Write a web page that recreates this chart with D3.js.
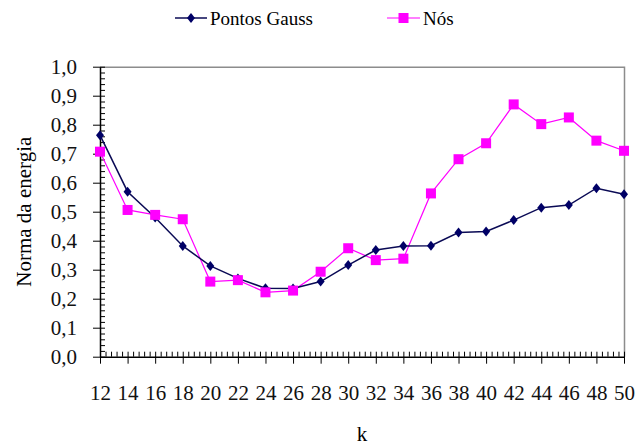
<!DOCTYPE html>
<html>
<head>
<meta charset="utf-8">
<script src="https://cdn.jsdelivr.net/npm/d3@7"></script>
<style>
  body { margin: 0; background: #fff; }
</style>
</head>
<body>
<div id="chart"></div>
<script>
const kValues = [12,14,16,18,20,22,24,26,28,30,32,34,36,38,40,42,44,46,48,50]
const pontosGauss = [0.764,0.569,0.48,0.382,0.313,0.27,0.236,0.235,0.259,0.316,0.368,0.382,0.383,0.428,0.432,0.471,0.514,0.523,0.581,0.560]
const nos = [0.707,0.506,0.489,0.474,0.259,0.264,0.222,0.228,0.293,0.374,0.333,0.338,0.563,0.681,0.736,0.870,0.802,0.825,0.745,0.710]
const yTicks = [0,0.1,0.2,0.3,0.4,0.5,0.6,0.7,0.8,0.9,1.0]
const seriesNames = ["Pontos Gauss", "Nós"]

const serif = "'Liberation Serif', 'DejaVu Serif', serif"

const margin = {top:66.7, right:15, bottom:90.3, left:100},
  width = 639 - margin.left - margin.right,
  height = 447 - margin.top - margin.bottom;

const x = d3.scaleLinear().domain([12, 50]).range([0, width])
const y = d3.scaleLinear().domain([0, 1]).range([height, 0])

const svg = d3.select("#chart")
  .append("svg")
    .attr("width", 639)
    .attr("height", 447)
    .attr("font-family", serif)
  .append("g")
    .attr("transform", "translate(" + margin.left + "," + margin.top + ")");

// frame top/right (gray)
svg.append("path")
  .attr("d", "M0,0.5H" + (width + 0.5) + "V" + height)
  .attr("fill", "none")
  .attr("stroke", "#8c8c8c")
  .attr("stroke-width", 1.5)

// minor ticks
const xMinor = d3.range(12, 50.01, 0.4).filter(v => Math.abs(v/2 - Math.round(v/2)) > 0.01)
const yMinor = d3.range(0, 1.001, 0.02).filter(v => Math.abs(v*10 - Math.round(v*10)) > 0.01)

svg.append("g")
  .attr("transform", "translate(0," + height + ")")
  .call(d3.axisBottom(x).tickValues(xMinor).tickSize(-5).tickFormat(""))
  .call(g => g.select(".domain").remove())

svg.append("g")
  .call(d3.axisLeft(y).tickValues(yMinor).tickSize(-5).tickFormat(""))
  .call(g => g.select(".domain").remove())

// x axis
const xAxis = svg.append("g")
  .attr("transform", "translate(0," + height + ")")
  .call(d3.axisBottom(x).tickValues(kValues).tickSize(7).tickSizeOuter(0).tickPadding(21))
  .attr("font-family", serif)
xAxis.selectAll(".tick line").attr("y1", -5)
xAxis.selectAll("text").attr("font-size", "21px").attr("fill", "#111")
xAxis.select(".domain").attr("stroke-width", 1.5)

// y axis
const yAxis = svg.append("g")
  .call(d3.axisLeft(y).tickValues(yTicks).tickSize(7).tickSizeOuter(0).tickPadding(16)
    .tickFormat(v => d3.format(".1f")(v).replace(".", ",")))
  .attr("font-family", serif)
yAxis.selectAll(".tick line").attr("x1", 5)
yAxis.selectAll("text").attr("font-size", "21px").attr("fill", "#111")
yAxis.select(".domain").attr("stroke-width", 1.5)

// axis titles
svg.append("text")
  .attr("x", width / 2)
  .attr("y", 374)
  .attr("text-anchor", "middle")
  .attr("font-size", "21px")
  .text("k")

svg.append("text")
  .attr("transform", "translate(-69," + (height / 2) + ") rotate(-90)")
  .attr("text-anchor", "middle")
  .attr("font-size", "21px")
  .text("Norma da energia")

const line = d3.line()
  .x((d, i) => x(kValues[i]))
  .y(d => y(d))

// Nós
svg.append("path")
  .datum(nos)
  .attr("fill", "none")
  .attr("stroke", "#ff00ff")
  .attr("stroke-width", 1.2)
  .attr("d", line)

// Pontos Gauss
svg.append("path")
  .datum(pontosGauss)
  .attr("fill", "none")
  .attr("stroke", "#0a0a55")
  .attr("stroke-width", 1.5)
  .attr("d", line)

svg.selectAll(".gauss")
  .data(pontosGauss)
  .enter()
  .append("path")
    .attr("class", "gauss")
    .attr("transform", (d, i) => "translate(" + x(kValues[i]) + "," + y(d) + ")")
    .attr("d", "M0,-5L4,0L0,5L-4,0Z")
    .attr("fill", "#000066")

svg.selectAll(".nos")
  .data(nos)
  .enter()
  .append("rect")
    .attr("class", "nos")
    .attr("x", (d, i) => x(kValues[i]) - 5)
    .attr("y", d => y(d) - 5)
    .attr("width", 10)
    .attr("height", 10)
    .attr("fill", "#ff00ff")

// legend
const legend = d3.select("svg").append("g")
const lg1 = legend.append("g").attr("transform", "translate(175,18)")
lg1.append("line").attr("x1", 0).attr("x2", 32).attr("stroke", "#0a0a55").attr("stroke-width", 1.5)
lg1.append("path").attr("d", "M16,-5L20,0L16,5L12,0Z").attr("fill", "#000066")
lg1.append("text").attr("x", 35).attr("dy", "0.35em").attr("font-size", "19px").text(seriesNames[0])

const lg2 = legend.append("g").attr("transform", "translate(387,18)")
lg2.append("line").attr("x1", 0).attr("x2", 33).attr("stroke", "#ff00ff").attr("stroke-width", 1.2)
lg2.append("rect").attr("x", 11.5).attr("y", -5).attr("width", 10).attr("height", 10).attr("fill", "#ff00ff")
lg2.append("text").attr("x", 36).attr("dy", "0.35em").attr("font-size", "19px").text(seriesNames[1])
</script>
</body>
</html>
